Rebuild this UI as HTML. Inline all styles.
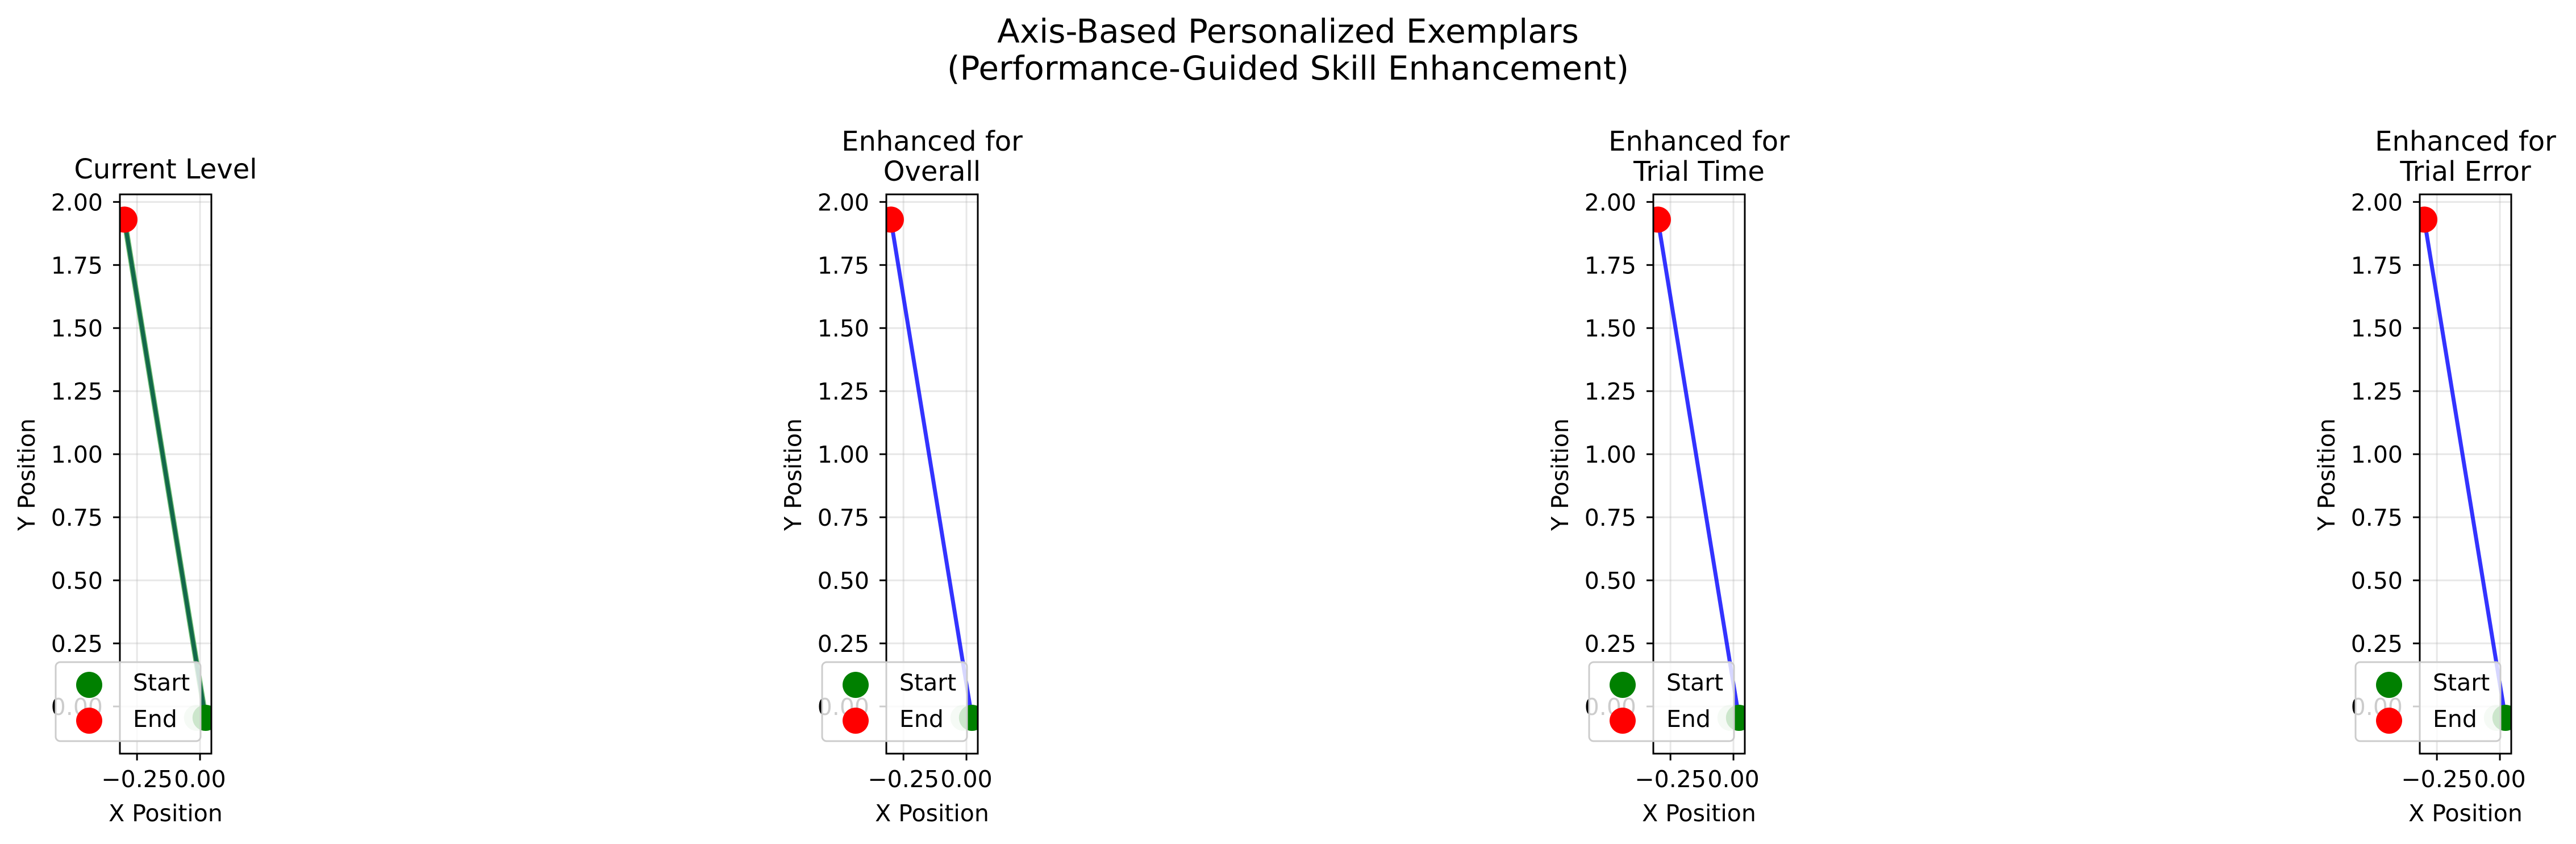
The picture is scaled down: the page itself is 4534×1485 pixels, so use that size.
<!DOCTYPE html>
<html><head><meta charset="utf-8">
<style>
html,body{margin:0;padding:0;background:#fff;}
svg{display:block;font-family:"DejaVu Sans","Liberation Sans",sans-serif;}
</style></head>
<body>
<svg id="chart" width="4534" height="1485" viewBox="0 0 4534 1485" xmlns="http://www.w3.org/2000/svg">
<text x="2267" y="75" font-size="58" text-anchor="middle">Axis-Based Personalized Exemplars</text>
<text x="2267" y="140" font-size="58" text-anchor="middle">(Performance-Guided Skill Enhancement)</text>
</svg>
<script>
const panelTitles = [["Current Level"], ["Enhanced for", "Overall"], ["Enhanced for", "Trial Time"], ["Enhanced for", "Trial Error"]];
const panelNames = ["current-level", "overall", "trial-time", "trial-error"];
const pathX = [-0.3, -0.015, 0.022];
const pathY = [1.93, 0.18, -0.045];
const startX = 0.022, startY = -0.045;
const fadedX = -0.012, fadedY = -0.045;
const endX = -0.3, endY = 1.93;
const yTicks = [0, 0.25, 0.5, 0.75, 1.0, 1.25, 1.5, 1.75, 2.0];
const yTickLabels = ["0.00", "0.25", "0.50", "0.75", "1.00", "1.25", "1.50", "1.75", "2.00"];
const xTicks = [-0.25, 0.0];
const xTickLabels = ["\u22120.25", "0.00"];

const NS = "http://www.w3.org/2000/svg";
const svg = document.getElementById('chart');
function mk(tag, attrs, parent) {
  const e = document.createElementNS(NS, tag);
  for (const k in attrs) e.setAttribute(k, attrs[k]);
  (parent || svg).appendChild(e);
  return e;
}
const axLefts = [211, 1560, 2910, 4259];
const axW = 161, axTop = 342, axBot = 1326;
const xmin = -0.318, xmax = 0.045, ymin = -0.187, ymax = 2.03;

axLefts.forEach((L, pi) => {
  const X = v => L + (v - xmin) / (xmax - xmin) * axW;
  const Y = v => axBot - (v - ymin) / (ymax - ymin) * (axBot - axTop);
  const g = mk('g', {});
  
  
  const clipId = 'clip' + pi;
  const cp = mk('clipPath', {id: clipId}, g);
  mk('rect', {x: L, y: axTop, width: axW, height: axBot - axTop}, cp);
  // grid
  yTicks.forEach((t, i) => {
    const gl = mk('line', {x1: L, x2: L + axW, y1: Y(t), y2: Y(t), stroke: '#b0b0b0', 'stroke-opacity': 0.3, 'stroke-width': 3}, g);
    
    
    const tk = mk('line', {x1: L - 12, x2: L, y1: Y(t), y2: Y(t), stroke: '#000', 'stroke-width': 3}, g);
    
    
    const tl = mk('text', {x: L - 30, y: Y(t) + 15, 'font-size': 41, 'text-anchor': 'end'}, g);
    tl.textContent = yTickLabels[i];
    
    
  });
  xTicks.forEach((t, i) => {
    const gl = mk('line', {x1: X(t), x2: X(t), y1: axTop, y2: axBot, stroke: '#b0b0b0', 'stroke-opacity': 0.3, 'stroke-width': 3}, g);
    
    
    const tk = mk('line', {x1: X(t), x2: X(t), y1: axBot, y2: axBot + 12, stroke: '#000', 'stroke-width': 3}, g);
    
    
    const tl = mk('text', {x: X(t), y: 1385, 'font-size': 41, 'text-anchor': 'middle'}, g);
    tl.textContent = xTickLabels[i];
    
    
  });
  const cg = mk('g', {'clip-path': 'url(#' + clipId + ')'}, g);
  const pts = pathX.map((x, i) => X(x) + ',' + Y(pathY[i])).join(' ');
  if (pi === 0) {
    const l1 = mk('polyline', {points: pts, fill: 'none', stroke: '#4caf50', 'stroke-width': 10, 'stroke-opacity': 0.8}, cg);
    
    
    const l2 = mk('polyline', {points: pts, fill: 'none', stroke: '#13684a', 'stroke-width': 7}, cg);
    
    
  } else {
    const l = mk('polyline', {points: pts, fill: 'none', stroke: '#0000ff', 'stroke-opacity': 0.8, 'stroke-width': 7}, cg);
    
    
  }
  const fm = mk('circle', {cx: X(fadedX), cy: Y(fadedY), r: 23, fill: 'green', 'fill-opacity': 0.2}, cg);
  
  
  const sm = mk('circle', {cx: X(startX), cy: Y(startY), r: 23, fill: 'green'}, cg);
  
  
  const em = mk('circle', {cx: X(endX), cy: Y(endY), r: 23, fill: 'red'}, cg);
  
  
  // spines
  const sp = mk('rect', {x: L, y: axTop, width: axW, height: axBot - axTop, fill: 'none', stroke: '#000', 'stroke-width': 3}, g);
  
  
  // legend
  const lg = mk('g', {}, g);
  
  
  mk('rect', {x: L - 113, y: 1165, width: 255, height: 139, rx: 8, fill: '#fff', 'fill-opacity': 0.8, stroke: '#cccccc', 'stroke-width': 3}, lg);
  const ls = mk('circle', {cx: L - 54, cy: 1205, r: 23, fill: 'green'}, lg);
  
  
  const lt1 = mk('text', {x: L + 23, y: 1215, 'font-size': 41}, lg);
  lt1.textContent = 'Start';
  
  
  const le = mk('circle', {cx: L - 54, cy: 1268, r: 23, fill: 'red'}, lg);
  
  
  const lt2 = mk('text', {x: L + 23, y: 1279, 'font-size': 41}, lg);
  lt2.textContent = 'End';
  
  
  // titles
  const cx = L + axW / 2;
  const lines = panelTitles[pi];
  lines.forEach((s, i) => {
    const yb = lines.length === 1 ? 314 : (i === 0 ? 265 : 318);
    const t = mk('text', {x: cx, y: yb, 'font-size': 48, 'text-anchor': 'middle'}, g);
    t.textContent = s;
    
    
  });
  const xl = mk('text', {x: cx, y: 1445, 'font-size': 41, 'text-anchor': 'middle'}, g);
  xl.textContent = 'X Position';
  
  
  const yl = mk('text', {x: 0, y: 0, 'font-size': 41, 'text-anchor': 'middle', transform: 'translate(' + (L - 150) + ',835) rotate(-90)'}, g);
  yl.textContent = 'Y Position';
  
  
});
</script>
</body></html>
